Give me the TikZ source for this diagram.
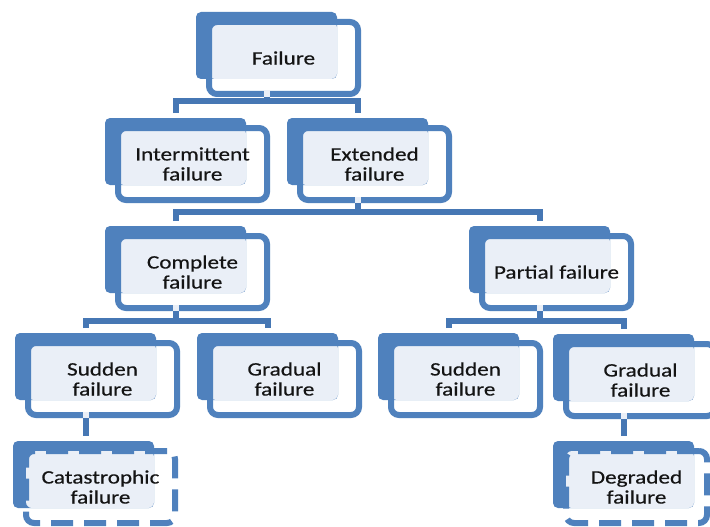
\documentclass[tikz,border=0pt]{standalone}
\usepackage{fontspec}
\setmainfont{Carlito}[FakeStretch=1.22, FakeBold=0.4]
\usetikzlibrary{calc}

\definecolor{boxblue}{HTML}{4F81BD}
\definecolor{linkblue}{HTML}{4677B4}
\definecolor{paleblue}{HTML}{EAEFF7}
\definecolor{inktext}{HTML}{141414}

\tikzset{
  backbox/.style={fill=boxblue, draw=none, rounded corners=5pt,
    minimum width=141pt, minimum height=67pt, anchor=north west,
    inner sep=0pt, outer sep=0pt},
  frontbox/.style={draw=boxblue, line width=6pt, rounded corners=8pt,
    minimum width=149pt, minimum height=72pt, anchor=north west,
    inner sep=0pt, align=center, text=inktext,
    font=\fontsize{19}{20}\selectfont},
  solidedge/.style={},
  dashededge/.style={dash pattern=on 22pt off 11pt},
  link/.style={draw=linkblue, line width=6pt},
}

% #1 front width, #2 name, #3 edge style, #4 x, #5 y (top-left of back panel), #6 label
\newcommand\failnode[6][149]{%
  \node[backbox] (b#2) at (#4,#5) {};
  \fill[paleblue, rounded corners=6pt] (#4+13,#5+10) rectangle (#4+141,#5+67);
  \node[frontbox, #3, minimum width=#1pt] (f#2) at (#4+10,#5+7) {#6};
}

% drop from a parent box down to a bar coordinate
\newcommand\dropto[2]{%
  \fill[paleblue] ($(b#1.south |- f#1.south)+(-3pt,0pt)$) rectangle ++(6pt,6.5pt);
  \draw[link] (b#1.south |- f#1.south) -- (b#1.south |- #2);
}

% bar joining two child boxes
\newcommand\barjoin[3]{%
  \draw[link] ($(b#1.north)+(0pt,5pt)$) -- (b#1.north |- #3)
    -- (b#2.north |- #3) -- ($(b#2.north)+(0pt,5pt)$);
}

\begin{document}
\begin{tikzpicture}[x=1pt, y=-1pt]
  \useasboundingbox (0,0) rectangle (710,527);
  \fill[white] (0,0) rectangle (710,527);
  \clip (0,0) rectangle (710,527);

  % boxes
  \failnode{fail}{solidedge}{196}{12}{Failure}
  \failnode{inter}{solidedge}{105}{118}{Intermittent\\failure}
  \failnode{ext}{solidedge}{287}{118}{Extended\\failure}
  \failnode{comp}{solidedge}{105}{226}{Complete\\failure}
  \failnode{part}{solidedge}{469}{226}{Partial failure}
  \failnode{sudL}{solidedge}{15}{333}{Sudden\\failure}
  \failnode{gradL}{solidedge}{197}{333}{Gradual\\failure}
  \failnode{sudR}{solidedge}{378}{333}{Sudden\\failure}
  \failnode{gradR}{solidedge}{553}{334}{Gradual\\failure}
  \failnode{cat}{dashededge}{13}{441}{Catastrophic\\failure}
  \failnode[141]{deg}{dashededge}{553}{441}{Degraded\\failure}

  % bar levels
  \coordinate (barA) at (0,101);
  \coordinate (barB) at (0,212);
  \coordinate (barC) at (0,321);
  \coordinate (barD) at (0,321);

  % connectors
  \dropto{fail}{barA}
  \barjoin{inter}{ext}{barA}

  \dropto{ext}{barB}
  \barjoin{comp}{part}{barB}

  \dropto{comp}{barC}
  \barjoin{sudL}{gradL}{barC}

  \dropto{part}{barD}
  \barjoin{sudR}{gradR}{barD}

  \fill[paleblue] ($(bsudL.south |- fsudL.south)+(-3pt,0pt)$) rectangle ++(6pt,6.5pt);
  \draw[link] (bsudL.south |- fsudL.south) -- ($(bsudL.south |- bcat.north)+(0pt,5pt)$);

  \fill[paleblue] ($(bgradR.south |- fgradR.south)+(-3pt,0pt)$) rectangle ++(6pt,6.5pt);
  \draw[link] (bgradR.south |- fgradR.south) -- ($(bgradR.south |- bdeg.north)+(0pt,5pt)$);
\end{tikzpicture}
\end{document}
